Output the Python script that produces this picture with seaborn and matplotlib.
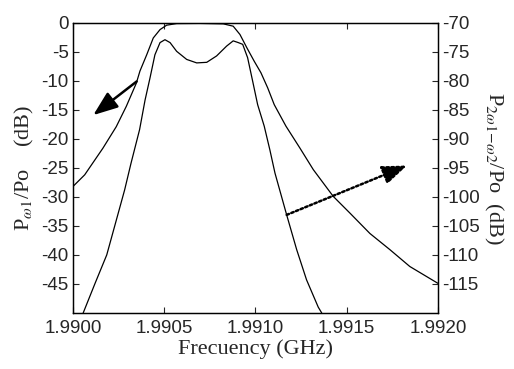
import matplotlib
matplotlib.use("Agg")
import matplotlib.pyplot as plt
import seaborn as sns
import pandas as pd

# fundamental response (left axis, dB)
outer_ghz = [1.990000, 1.990064, 1.990164, 1.990237, 1.990292, 1.990347, 1.990367,
             1.990404, 1.990440, 1.990477, 1.990513, 1.990568, 1.990696, 1.990824,
             1.990878, 1.990915, 1.990953, 1.990993, 1.991030, 1.991067, 1.991103,
             1.991167, 1.991244, 1.991317, 1.991426, 1.991518, 1.991627, 1.991737,
             1.991846, 1.992000]
outer_db = [-28.2, -26.2, -21.6, -17.9, -14.4, -10.4, -8.3,
            -5.5, -2.6, -1.16, -0.40, -0.12, -0.09, -0.17,
            -0.57, -2.0, -4.3, -6.6, -8.6, -11.2, -14.1,
            -17.8, -21.6, -25.3, -29.9, -32.8, -36.3, -39.1,
            -42.0, -44.9]

# intermodulation product 2w1-w2 (right axis, dB)
inner_ghz = [1.990056, 1.990121, 1.990185, 1.990283, 1.990318, 1.990365, 1.990395,
             1.990422, 1.990449, 1.990477, 1.990504, 1.990532, 1.990568, 1.990623,
             1.990678, 1.990733, 1.990787, 1.990842, 1.990878, 1.990906, 1.990930,
             1.990957, 1.990985, 1.991012, 1.991048, 1.991079, 1.991107, 1.991171,
             1.991226, 1.991280, 1.991344, 1.991363]
inner_db = [-120.0, -114.9, -110.0, -98.8, -94.2, -88.4, -83.3,
            -79.5, -75.5, -73.4, -72.9, -73.4, -74.9, -76.3,
            -76.9, -76.8, -75.7, -74.0, -73.1, -73.4, -73.7,
            -76.0, -80.1, -84.1, -87.8, -91.9, -95.9, -103.1,
            -109.1, -114.3, -119.0, -120.0]

x_ticks = [1.9900, 1.9905, 1.9910, 1.9915, 1.9920]
left_ticks = [0, -5, -10, -15, -20, -25, -30, -35, -40, -45]
right_ticks = [-70, -75, -80, -85, -90, -95, -100, -105, -110, -115]

# arrows (left-axis data coords): tail -> tip
solid_arrow = ((1.990349, -10.1), (1.990111, -15.9))
dotted_arrow = ((1.991171, -33.1), (1.991830, -24.6))

sns.set_style("ticks")
plt.rcParams["font.family"] = ["Liberation Sans", "DejaVu Sans"]
plt.rcParams["mathtext.fontset"] = "stix"
plt.rcParams["xtick.direction"] = "in"
plt.rcParams["ytick.direction"] = "in"

df_out = pd.DataFrame({"f": outer_ghz, "p": outer_db})
df_in = pd.DataFrame({"f": inner_ghz, "p": inner_db})

fig = plt.figure(figsize=(5.14, 3.69), dpi=100)
ax = fig.add_axes([0.142, 0.152, 0.710, 0.786])
ax2 = ax.twinx()

sns.lineplot(data=df_out, x="f", y="p", ax=ax, color="black", lw=0.9,
             sort=False, estimator=None)
sns.lineplot(data=df_in, x="f", y="p", ax=ax2, color="black", lw=0.9,
             sort=False, estimator=None)

ax.set_xlim(1.99, 1.992)
ax.set_ylim(-50, 0)
ax2.set_ylim(-120, -70)
ax.set_xticks(x_ticks)
ax.set_xticklabels([f"{t:.4f}" for t in x_ticks])
ax.set_yticks(left_ticks)
ax.set_yticklabels([str(t) for t in left_ticks])
ax2.set_yticks(right_ticks)
ax2.set_yticklabels([str(t) for t in right_ticks])

for a in (ax, ax2):
    for s in a.spines.values():
        s.set_visible(True)
        s.set_linewidth(0.9)
        s.set_color("black")
ax.tick_params(axis="x", top=True, labelsize=13.5, length=4, width=0.8, pad=5)
ax.tick_params(axis="y", labelsize=13.5, length=4, width=0.8, pad=3)
ax2.tick_params(axis="y", labelsize=13.5, length=4, width=0.8, pad=3)

serif = ["Liberation Serif", "DejaVu Serif"]
ax.set_xlabel("Frecuency (GHz)", family=serif, fontsize=16, labelpad=2)
ax.set_ylabel(r"P$_{\omega1}$/Po    (dB)", family=serif, fontsize=16, labelpad=4)
ax2.set_ylabel(r"P$_{2\omega1\!-\!\omega2}$/Po  (dB)", family=serif, fontsize=16,
               rotation=270, labelpad=18)

ax.annotate("", xy=solid_arrow[1], xytext=solid_arrow[0],
            arrowprops=dict(arrowstyle="-|>,head_length=1.0,head_width=0.38",
                            mutation_scale=15, color="black", lw=1.8,
                            shrinkA=0, shrinkB=0))
ax.annotate("", xy=dotted_arrow[1], xytext=dotted_arrow[0],
            arrowprops=dict(arrowstyle="-|>,head_length=1.0,head_width=0.38",
                            mutation_scale=15, color="black", lw=1.8,
                            linestyle=(0, (1, 1)), shrinkA=0, shrinkB=0))

fig.savefig("out.png", dpi=100)
